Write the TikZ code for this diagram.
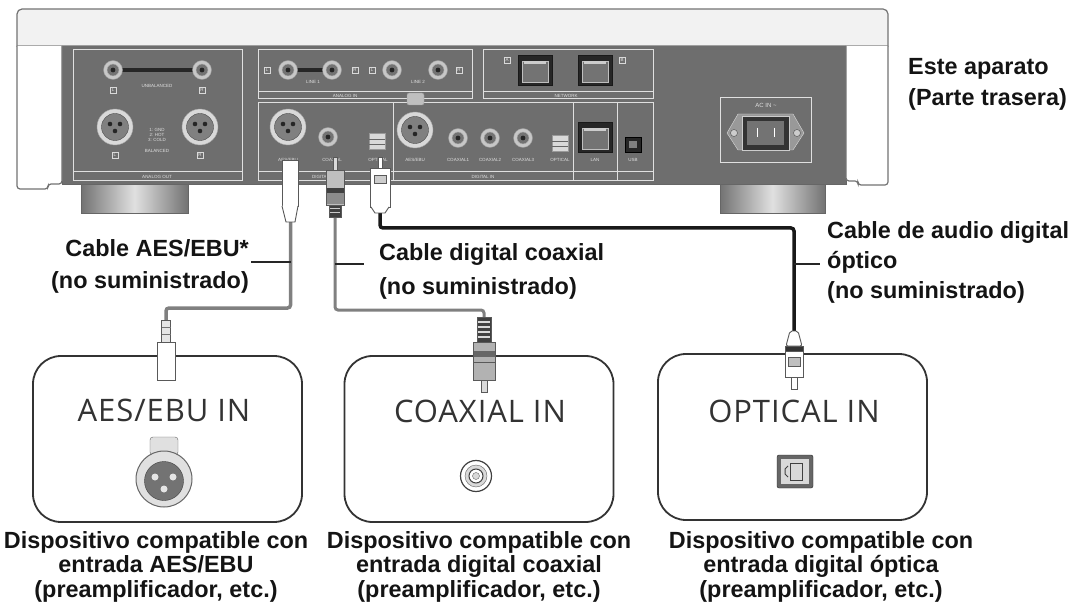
\documentclass[tikz,border=0pt]{standalone}
\usepackage{fontspec}
\setmainfont{Liberation Sans}
\newfontfamily\boxfont[LetterSpace=3]{Open Sans}
\usetikzlibrary{positioning}

\tikzset{
  lbl/.style={font=\bfseries\fontsize{23.4}{#1}\selectfont, inner sep=0pt, text=black!92},
  lbl/.default=32,
  boxlbl/.style={font=\boxfont\fontsize{31}{32}\selectfont, inner sep=0pt, text=black!80},
  devbox/.style={draw=black!80, line width=1.8pt, rounded corners=28pt, minimum width=269pt, minimum height=166pt},
  cable/.style={line width=3.5pt, draw=black!50, rounded corners=3pt},
  optcable/.style={line width=3.5pt, draw=black!90, rounded corners=3pt},
  leader/.style={line width=1.3pt, draw=black!85},
  sect/.style={draw=black!12, line width=1pt},
  tiny/.style={font=\fontsize{4.5}{5}\selectfont, inner sep=0pt, text=black!12},
  icon/.style={tiny, draw=black!15, minimum size=6pt},
  plug/.style={draw=black!65, line width=0.9pt, fill=white},
}

\begin{document}
\begin{tikzpicture}[x=1pt,y=-1pt]
  \useasboundingbox (0,0) rectangle (1071,604);
  \fill[white] (0,0) rectangle (1071,604);

  % rear panel of the unit
  \shade[left color=black!55, right color=black!55, middle color=black!12, draw=black!60] (81,184) rectangle (188,213);
  \shade[left color=black!55, right color=black!55, middle color=black!12, draw=black!60] (720,184) rectangle (825,213);
  \draw[fill=black!57, draw=black!60] (62,46) rectangle (846,184);
  \draw[fill=black!5, draw=black!55, line width=1.2pt] (17,46) [rounded corners=5pt] -- (17,9) -- (888,9) [sharp corners] -- (888,46) -- cycle;
  \draw[fill=white, draw=black!55, line width=1.2pt, rounded corners=3pt] (17,46) -- (17,189) -- (48,189) -- (48,184) -- (62,184) -- (62,46);
  \draw[fill=white, draw=black!55, line width=1.2pt, rounded corners=3pt] (888,46) -- (888,185) -- (858,185) -- (858,181) -- (846,181) -- (846,46);

  \draw[sect] (73,50) rectangle (242,181);
  \draw[sect] (73,172) -- (242,172);
  \draw[sect] (258,50) rectangle (472,99);
  \draw[sect] (258,92) -- (472,92);
  \draw[sect] (483,50) rectangle (653,99);
  \draw[sect] (483,92) -- (653,92);
  \draw[sect] (258,103) rectangle (653,181);
  \draw[sect] (258,172) -- (653,172);
  \foreach \x in {393,573,617} \draw[sect] (\x,103) -- (\x,181);
  \draw[sect] (720,98) rectangle (811,163);

  \draw[line width=4pt, black!85] (113,70) -- (202,70);
  \draw[line width=4pt, black!85] (288,70) -- (332,70);
  \foreach \x/\y in {113/70, 202/70, 288/70, 332/70, 392/70, 438/70, 328/137, 458/138, 490/138, 523/138} {
    \draw[fill=black!22, draw=black!40] (\x,\y) circle (9.5);
    \draw[fill=black!55, draw=black!30] (\x,\y) circle (6);
    \fill[black!85] (\x,\y) circle (2.4);
  }
  \draw[fill=black!25, draw=black!40, rounded corners=2pt] (407,93) rectangle (424,105);
  \foreach \x/\y in {115/127, 200/127, 288/127, 415/130} {
    \draw[fill=black!15, draw=black!35] (\x,\y) circle (18);
    \draw[fill=black!50, draw=black!70] (\x,\y) circle (13.5);
    \foreach \a/\b in {-5/-3, 5/-3, 0/4} \fill[black!85] (\x+\a,\y+\b) circle (2.3);
  }
  \foreach \x/\y in {535/70, 595/70, 595/137} {
    \draw[fill=black!85, draw=black!90] (\x-17,\y-15) rectangle (\x+17,\y+15);
    \draw[fill=black!55, draw=black!25] (\x-13,\y-9) rectangle (\x+13,\y+12);
    \fill[black!20] (\x-11,\y-9) rectangle (\x+11,\y-6);
  }
  \draw[fill=black!85] (625,137) rectangle (641,152);
  \fill[black!50] (629,141) rectangle (637,148);
  \foreach \x/\y in {377/141, 560/143} {
    \draw[fill=black!15, draw=black!40] (\x-8,\y-8) rectangle (\x+8,\y+8);
    \draw[black!60] (\x-8,\y-2) -- (\x+8,\y-2);
    \draw[black!60] (\x-8,\y+3) -- (\x+8,\y+3);
  }
  % AC inlet
  \draw[fill=black!40, draw=black!15] (727,133) -- (738,114) -- (793,114) -- (804,133) -- (793,150) -- (738,150) -- cycle;
  \draw[fill=black!20, draw=black!70] (734,133) circle (3.5);
  \draw[fill=black!20, draw=black!70] (797,133) circle (3.5);
  \draw[fill=black!80, draw=black!20] (742,116) rectangle (789,150);
  \fill[black!55] (747,121) rectangle (784,145);
  \draw[white, line width=1pt] (757,128) -- (757,137);
  \draw[white, line width=1pt] (774,128) -- (774,137);

  \foreach \x/\y/\t [count=\n] in {113/90/L, 202/90/R, 115/155/L, 200/155/R, 267/70/L, 355/70/R, 372/70/L, 459/70/R, 507/60/A, 622/60/B}
    \node[icon] (icon\n) at (\x,\y) {\t};
  \node[tiny] (unbal) at (157,86) {UNBALANCED};
  \node[tiny, align=center] (pins) at (157,135) {1: GND\\2: HOT\\3: COLD};
  \node[tiny] (bal) at (157,151) {BALANCED};
  \node[tiny] (aout) at (157,177) {ANALOG OUT};
  \node[tiny] (line1) at (313,82) {LINE 1};
  \node[tiny] (line2) at (418,82) {LINE 2};
  \node[tiny] (ain) at (345,96) {ANALOG IN};
  \node[tiny] (net) at (566,96) {NETWORK};
  \node[tiny] (doaes) at (288,160) {AES/EBU};
  \node[tiny] (docoax) at (332,160) {COAXIAL};
  \node[tiny] (doopt) at (378,160) {OPTICAL};
  \node[tiny] (dout) at (326,177) {DIGITAL OUT};
  \node[tiny] (diaes) at (415,160) {AES/EBU};
  \node[tiny] (dic1) at (458,160) {COAXIAL1};
  \node[tiny] (dic2) at (490,160) {COAXIAL2};
  \node[tiny] (dic3) at (523,160) {COAXIAL3};
  \node[tiny] (diopt) at (560,160) {OPTICAL};
  \node[tiny] (din) at (483,177) {DIGITAL IN};
  \node[tiny] (lan) at (595,160) {LAN};
  \node[tiny] (usb) at (633,160) {USB};
  \node[tiny, font=\fontsize{6}{7}\selectfont] (acin) at (766,105) {AC IN \textasciitilde};

  % devices
  \node[devbox] (aesbox) at (167.5,439) {};
  \node[devbox] (coaxbox) at (479,439) {};
  \node[devbox] (optbox) at (792.5,437) {};
  \node[boxlbl] (aesin) at (164,410) {AES/EBU IN};
  \node[boxlbl] (coaxin) at (480,411) {COAXIAL IN};
  \node[boxlbl] (optin) at (794,411) {OPTICAL IN};

  \draw[fill=black!12, draw=black!60, rounded corners=3pt] (150,437) rectangle (178,455);
  \draw[fill=black!12, draw=black!60, line width=1pt] (164,479) circle (28);
  \draw[fill=black!55, draw=black!75] (164,481) circle (19.5);
  \foreach \a/\b in {-9/-4, 9/-4, 0/8} \fill[black!10] (164+\a,481+\b) circle (3.5);
  \draw[fill=white, draw=black!75, line width=1.2pt] (476,476) circle (15.5);
  \draw[fill=black!15, draw=black!60] (476,476) circle (11);
  \draw[fill=white, draw=black!75, line width=1pt] (476,476) circle (7);
  \draw[fill=black!15, draw=black!60] (476,476) circle (3.5);
  \draw[fill=black!60, draw=black!85, rounded corners=2pt] (777,455) rectangle (813,488);
  \fill[black!15] (781,459) rectangle (809,484);
  \draw[black!75, line width=1pt] (790,463) rectangle (802,480);
  \draw[black!75, line width=1pt] (788,466) -- (785,469) -- (785,474) -- (788,477);

  % cables
  \coordinate (aestop) at (290.5,222);
  \coordinate (aesbot) at (166,320);
  \coordinate (coaxtop) at (335,217);
  \coordinate (coaxbot) at (484,317);
  \coordinate (opttop) at (380,212);
  \coordinate (optbot) at (794,331);
  \draw[cable] (aestop) -- ++(0,86) -| (aesbot);
  \draw[cable, line width=3pt] (coaxtop) -- ++(0,93) -| (coaxbot);
  \draw[optcable] (opttop) -- ++(0,16) -| (optbot);

  % plugs at the unit
  \draw[plug] (282,160) rectangle (298,206);
  \draw[plug] (282,206) -- (286,222) -- (295,222) -- (298,206);
  \draw[plug, fill=black!15] (333,157) rectangle (337,170);
  \draw[plug, fill=black!25] (326,170) rectangle (344,205);
  \fill[black!75] (326.5,188) rectangle (343.5,193);
  \fill[black!45] (326.5,193) rectangle (343.5,204.5);
  \draw[plug, fill=black!75] (329,205) rectangle (341,217);
  \foreach \yy in {209,213} \draw[black!20, line width=1pt] (330,\yy) -- (340,\yy);
  \draw[plug] (378,157) rectangle (382,168);
  \draw[plug] (370,168) rectangle (390,207);
  \draw[draw=black!65, fill=black!20] (374,175) rectangle (386,183);
  \draw[plug] (371,207) -- (375,213) -- (385,213) -- (389,207);

  % plugs at the devices
  \draw[plug, fill=black!10] (161.5,320) rectangle (170.5,342);
  \foreach \yy in {327,334} \draw[black!55] (161.5,\yy) -- (170.5,\yy);
  \draw[plug] (157,342) rectangle (175,380);
  \draw[plug, fill=black!75] (477,317) rectangle (491,342);
  \foreach \yy in {322,327,332,337} \draw[black!15, line width=1.2pt] (478,\yy) -- (490,\yy);
  \draw[plug, fill=black!30] (473,342) rectangle (495,380);
  \fill[black!60] (473.5,351) rectangle (494.5,357);
  \draw[black!65] (473,362) -- (495,362);
  \draw[plug, fill=black!15] (481,380) rectangle (487,392);
  \draw[plug, rounded corners=2pt] (790,331) -- (786,346) -- (802,346) -- (798,331) -- cycle;
  \draw[plug, fill=black!80] (785,346) rectangle (803,351);
  \draw[plug] (785,351) rectangle (803,377);
  \draw[draw=black!65, fill=black!25] (788,357) rectangle (800,366);
  \draw[plug] (791,377) rectangle (797,389);

  % labels
  \node[lbl=32, align=right, anchor=north east] (aeslbl) at (249,239) {Cable AES/EBU*\\(no suministrado)};
  \node[lbl=34, align=left, anchor=north west] (coaxlbl) at (379,243) {Cable digital coaxial\\(no suministrado)};
  \node[lbl=30, align=left, anchor=north west] (optlbl) at (827,221) {Cable de audio digital\\óptico\\(no suministrado)};
  \node[lbl=31, align=left, anchor=north west] (unitlbl) at (908,58) {Este aparato\\(Parte trasera)};
  \coordinate (aesjoin) at (290.5,262);
  \coordinate (coaxjoin) at (335,264);
  \coordinate (optjoin) at (794,264);
  \draw[leader] (aesjoin) -- (251,262);
  \draw[leader] (coaxjoin) -- (364,264);
  \draw[leader] (optjoin) -- (820,264);

  \node[lbl=24.5, align=center, anchor=north] (aescap) at (156,531) {Dispositivo compatible con\\entrada AES/EBU\\(preamplificador, etc.)};
  \node[lbl=24.5, align=center, anchor=north] (coaxcap) at (479,531) {Dispositivo compatible con\\entrada digital coaxial\\(preamplificador, etc.)};
  \node[lbl=24.5, align=center, anchor=north] (optcap) at (821,531) {Dispositivo compatible con\\entrada digital óptica\\(preamplificador, etc.)};
\end{tikzpicture}
\end{document}
